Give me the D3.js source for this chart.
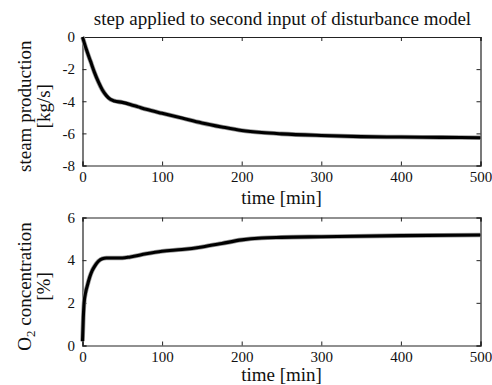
<!DOCTYPE html>
<html>
<head>
<meta charset="utf-8">
<script src="https://cdn.jsdelivr.net/npm/d3@7"></script>
<style>
  body { margin: 0; background: #fff; }
</style>
</head>
<body>
<div id="chart"></div>
<script>
const serif = "Liberation Serif";

// time axis [min]
const timeTicks = [0, 100, 200, 300, 400, 500];

// steam production response [kg/s]
const steamTime = [0, 5, 10, 15, 20, 25, 30, 35, 40, 50, 60, 70, 80, 100, 125, 150, 175, 200, 225, 250, 300, 350, 400, 450, 500];
const steamValues = [0, -0.8, -1.5, -2.2, -2.8, -3.3, -3.65, -3.88, -3.98, -4.07, -4.2, -4.35, -4.5, -4.75, -5.05, -5.35, -5.6, -5.82, -5.95, -6.03, -6.13, -6.2, -6.23, -6.25, -6.27];
const steamTicks = [0, -2, -4, -6, -8];

// O2 concentration response [%]
const o2Time = [0, 1, 2, 4, 6, 9, 12, 15, 20, 25, 30, 40, 50, 60, 80, 100, 125, 150, 175, 200, 225, 250, 300, 400, 500];
const o2Values = [0.2, 1.3, 2.0, 2.5, 2.8, 3.2, 3.5, 3.7, 3.95, 4.07, 4.1, 4.1, 4.1, 4.15, 4.3, 4.42, 4.5, 4.62, 4.78, 4.95, 5.04, 5.07, 5.1, 5.15, 5.18];
const o2Ticks = [0, 2, 4, 6];

const W = 492, H = 385;
const svg = d3.select("#chart").append("svg")
    .attr("width", W)
    .attr("height", H)
    .attr("font-family", serif);

const left = 82.5, right = 480.5;

function drawPanel(top, bottom, yDomain, yTicks, xs, ys, labelLines, xLabelGap) {
    let x = d3.scaleLinear().domain([0, 500]).range([left, right]);
    let y = d3.scaleLinear().domain(yDomain).range([bottom, top]);
    let g = svg.append("g");

    // inward ticks on all four sides
    g.append("g").attr("transform", `translate(0,${bottom})`)
        .call(d3.axisBottom(x).tickValues(timeTicks).tickSize(-4).tickPadding(6).tickFormat(d3.format("d")));
    g.append("g").attr("transform", `translate(0,${top})`)
        .call(d3.axisTop(x).tickValues(timeTicks).tickSize(-4).tickFormat(""));
    g.append("g").attr("transform", `translate(${left},0)`)
        .call(d3.axisLeft(y).tickValues(yTicks).tickSize(-4).tickPadding(7.5).tickFormat(d => d < 0 ? "-" + Math.abs(d) : d));
    g.append("g").attr("transform", `translate(${right},0)`)
        .call(d3.axisRight(y).tickValues(yTicks).tickSize(-4).tickFormat(""));

    g.selectAll("g").attr("font-family", serif).attr("font-size", 15);
    g.selectAll(".domain").attr("stroke", "#222").attr("stroke-width", 1.2);
    g.selectAll(".tick line").attr("stroke", "#222");
    g.selectAll(".tick text").attr("fill", "#111");

    let line = d3.line()
        .x((d, i) => x(xs[i]))
        .y(d => y(d))
        .curve(d3.curveMonotoneX);

    g.append("path")
        .datum(ys)
        .attr("d", line)
        .attr("fill", "none")
        .attr("stroke", "#9a9a9a")
        .attr("stroke-width", 4.6)
        .attr("stroke-linejoin", "round");
    g.append("path")
        .datum(ys)
        .attr("d", line)
        .attr("fill", "none")
        .attr("stroke", "#000")
        .attr("stroke-width", 3.1)
        .attr("stroke-linejoin", "round");

    // y label, two lines
    let cy = (top + bottom) / 2 + 5;
    labelLines.forEach((l, i) => {
        let t = g.append("text")
            .attr("transform", `translate(${i === 0 ? 31 : 50},${cy}) rotate(-90)`)
            .attr("text-anchor", "middle")
            .attr("font-size", 19)
            .attr("fill", "#111");
        l(t);
    });

    g.append("text")
        .attr("x", (left + right) / 2)
        .attr("y", bottom + xLabelGap)
        .attr("text-anchor", "middle")
        .attr("font-size", 19)
        .attr("fill", "#111")
        .text("time [min]");
}

svg.append("text")
    .attr("x", (left + right) / 2 + 1)
    .attr("y", 25)
    .attr("text-anchor", "middle")
    .attr("font-size", 19)
    .attr("fill", "#111")
    .text("step applied to second input of disturbance model");

drawPanel(37, 165.5, [-8, 0], steamTicks, steamTime, steamValues, [
    t => t.text("steam production"),
    t => t.text("[kg/s]")
], 38.5);

drawPanel(217.5, 345.5, [0, 6], o2Ticks, o2Time, o2Values, [
    t => {
        t.append("tspan").text("O");
        t.append("tspan").attr("dy", 4).attr("font-size", 13).text("2");
        t.append("tspan").attr("dy", -4).text(" concentration");
    },
    t => t.text("[%]")
], 35);
</script>
</body>
</html>
